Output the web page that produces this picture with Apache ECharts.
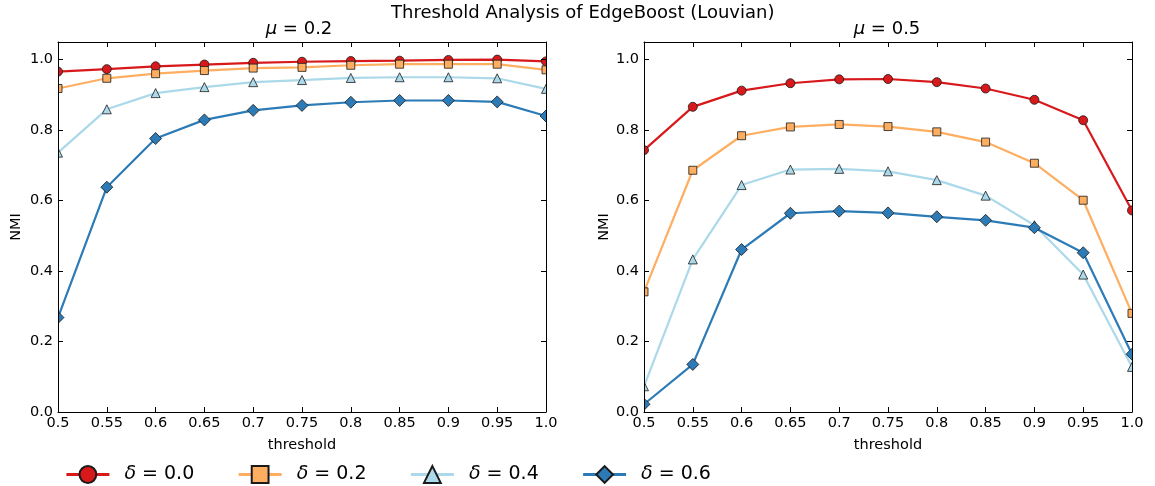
<!DOCTYPE html>
<html>
<head>
<meta charset="utf-8">
<title>Threshold Analysis of EdgeBoost (Louvian)</title>
<script src="https://cdn.jsdelivr.net/npm/echarts@6/dist/echarts.min.js"></script>
<style>
  html, body { margin: 0; padding: 0; background: #fff; }
  #chart { width: 1155px; height: 486px; }
</style>
</head>
<body>
<div id="chart"></div>
<script>
// Threshold values on the x axis
const thresholds = [0.5, 0.55, 0.6, 0.65, 0.7, 0.75, 0.8, 0.85, 0.9, 0.95, 1.0];
const xTickLabels = ['0.5', '0.55', '0.6', '0.65', '0.7', '0.75', '0.8', '0.85', '0.9', '0.95', '1.0'];
const yTickLabels = ['0.0', '0.2', '0.4', '0.6', '0.8', '1.0'];

// NMI for mu = 0.2
const mu02_d00 = [0.966, 0.973, 0.981, 0.986, 0.991, 0.994, 0.996, 0.997, 0.999, 1.000, 0.995];
const mu02_d02 = [0.918, 0.947, 0.960, 0.969, 0.976, 0.978, 0.984, 0.987, 0.987, 0.987, 0.971];
const mu02_d04 = [0.736, 0.859, 0.905, 0.922, 0.936, 0.942, 0.948, 0.950, 0.950, 0.947, 0.917];
const mu02_d06 = [0.268, 0.638, 0.776, 0.829, 0.856, 0.870, 0.879, 0.884, 0.884, 0.880, 0.840];

// NMI for mu = 0.5
const mu05_d00 = [0.743, 0.866, 0.912, 0.933, 0.944, 0.945, 0.936, 0.918, 0.886, 0.828, 0.572];
const mu05_d02 = [0.341, 0.686, 0.784, 0.809, 0.816, 0.810, 0.795, 0.766, 0.706, 0.601, 0.280];
const mu05_d04 = [0.073, 0.433, 0.644, 0.688, 0.690, 0.683, 0.658, 0.614, 0.530, 0.390, 0.128];
const mu05_d06 = [0.022, 0.135, 0.461, 0.564, 0.570, 0.565, 0.554, 0.544, 0.523, 0.452, 0.164];

const deltaNames = ['δ = 0.0', 'δ = 0.2', 'δ = 0.4', 'δ = 0.6'];
const panelTitles = ['0.2', '0.5'];

const FONT = 'DejaVu Sans';
const styles = [
  { color: '#d7191c', symbol: 'circle', size: 9 },
  { color: '#fdae61', symbol: 'rect', size: 8 },
  { color: '#abd9e9', symbol: 'triangle', size: 9 },
  { color: '#2c7bb6', symbol: 'diamond', size: 12 }
];

const grids = [
  { left: 58, top: 42, width: 488, height: 370, yNameGap: 34, titleX: 299 },
  { left: 644, top: 42, width: 488, height: 370, yNameGap: 32, titleX: 887 }
];

function xLabel(v) {
  const i = Math.round((v - 0.5) / 0.05);
  return Math.abs(v - (0.5 + i * 0.05)) < 1e-6 && xTickLabels[i] !== undefined ? xTickLabels[i] : '';
}
function yLabel(v) {
  const i = Math.round(v / 0.2);
  return Math.abs(v - i * 0.2) < 1e-6 && yTickLabels[i] !== undefined ? yTickLabels[i] : '';
}

const tickStyle = { show: true, inside: true, length: 5, lineStyle: { color: '#000', width: 1 } };
const lineStyleAxis = { show: true, onZero: false, lineStyle: { color: '#000', width: 1 } };

const xAxes = [];
const yAxes = [];
grids.forEach((g, gi) => {
  xAxes.push({
    type: 'value', gridIndex: gi, position: 'bottom', min: 0.5, max: 1.0, interval: 0.05, z: 10,
    axisLine: lineStyleAxis, axisTick: tickStyle, splitLine: { show: false },
    axisLabel: { show: true, margin: 4, color: '#000', fontFamily: FONT, fontSize: 14.5, formatter: xLabel },
    name: 'threshold', nameLocation: 'middle', nameGap: 26,
    nameTextStyle: { color: '#000', fontFamily: FONT, fontSize: 14.5 }
  });
  xAxes.push({
    type: 'value', gridIndex: gi, position: 'top', min: 0.5, max: 1.0, interval: 0.05, z: 10,
    axisLine: lineStyleAxis, axisTick: tickStyle, splitLine: { show: false }, axisLabel: { show: false }
  });
  yAxes.push({
    type: 'value', gridIndex: gi, position: 'left', min: 0, max: 1.05, interval: 0.2, z: 10,
    axisLine: lineStyleAxis, axisTick: tickStyle, splitLine: { show: false },
    axisLabel: { show: true, margin: 5, color: '#000', fontFamily: FONT, fontSize: 14.5, formatter: yLabel,
                 showMaxLabel: false },
    name: 'NMI', nameLocation: 'middle', nameGap: g.yNameGap,
    nameTextStyle: { color: '#000', fontFamily: FONT, fontSize: 14.5 }
  });
  yAxes.push({
    type: 'value', gridIndex: gi, position: 'right', min: 0, max: 1.05, interval: 0.2, z: 10,
    axisLine: lineStyleAxis, axisTick: tickStyle, splitLine: { show: false }, axisLabel: { show: false }
  });
});

const panels = [
  [mu02_d00, mu02_d02, mu02_d04, mu02_d06],
  [mu05_d00, mu05_d02, mu05_d04, mu05_d06]
];

const series = [];
panels.forEach((values, gi) => {
  values.forEach((vals, si) => {
    const st = styles[si];
    series.push({
      name: deltaNames[si],
      type: 'line',
      xAxisIndex: gi * 2,
      yAxisIndex: gi * 2,
      data: thresholds.map((t, k) => [t, vals[k]]),
      symbol: st.symbol,
      symbolSize: st.size,
      showSymbol: true,
      clip: true,
      lineStyle: { color: st.color, width: 2.2 },
      itemStyle: { color: st.color, borderColor: '#1a1a1a', borderWidth: 0.8 },
      emphasis: { disabled: true },
      z: 2
    });
  });
});

// white strips just outside each plot frame so edge markers are cut at the frame
const masks = [];
grids.forEach(g => {
  masks.push({ type: 'rect', z: 3, silent: true,
    shape: { x: g.left - 14, y: g.top - 10, width: 14, height: g.height + 20 }, style: { fill: '#fff' } });
  masks.push({ type: 'rect', z: 3, silent: true,
    shape: { x: g.left + g.width, y: g.top - 10, width: 14, height: g.height + 20 }, style: { fill: '#fff' } });
});

const option = {
  backgroundColor: '#fff',
  animation: false,
  title: [
    { text: 'Threshold Analysis of EdgeBoost (Louvian)', left: 391, top: 4, padding: 0,
      textStyle: { fontFamily: FONT, fontSize: 18, fontWeight: 'normal', color: '#000' } },
    ...panelTitles.map((p, gi) => ({
      text: '{m|μ} = ' + p,
      left: grids[gi].titleX, textAlign: 'center', top: 20, padding: 0,
      textStyle: { fontFamily: FONT, fontSize: 18, fontWeight: 'normal', color: '#000',
        rich: { m: { fontFamily: FONT, fontSize: 18, fontStyle: 'italic', color: '#000' } } }
    }))
  ],
  legend: {
    data: deltaNames,
    left: 65, top: 465, padding: 0,
    itemWidth: 43, itemHeight: 21, itemGap: 43,
    lineStyle: { width: 2.8 },
    selectedMode: false,
    formatter: name => '{d|δ}' + name.slice(1),
    textStyle: { fontFamily: FONT, fontSize: 19, color: '#000', padding: [0, 0, 0, 10],
      rich: { d: { fontFamily: FONT, fontSize: 19, fontStyle: 'italic', color: '#000' } } }
  },
  grid: grids.map(g => ({ left: g.left, top: g.top, width: g.width, height: g.height, containLabel: false })),
  xAxis: xAxes,
  yAxis: yAxes,
  graphic: masks,
  series: series
};

const chart = echarts.init(document.getElementById('chart'), null, { renderer: 'canvas' });
chart.setOption(option);
</script>
</body>
</html>
